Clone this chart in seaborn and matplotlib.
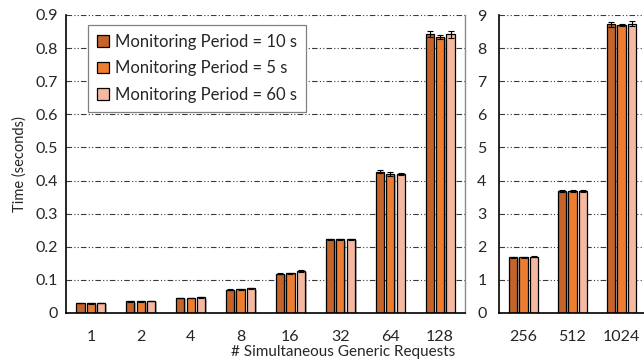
import matplotlib
matplotlib.use("Agg")
import matplotlib.pyplot as plt
import matplotlib.patheffects as pe
import seaborn as sns
import pandas as pd
import numpy as np

# ---- data ----
left_cats = ["1", "2", "4", "8", "16", "32", "64", "128"]
right_cats = ["256", "512", "1024"]
series = ["Monitoring Period = 10 s", "Monitoring Period = 5 s", "Monitoring Period = 60 s"]

left_p10 = [0.030, 0.035, 0.045, 0.070, 0.119, 0.222, 0.427, 0.843]
left_p5 = [0.029, 0.035, 0.045, 0.071, 0.120, 0.222, 0.420, 0.834]
left_p60 = [0.030, 0.036, 0.047, 0.074, 0.127, 0.223, 0.420, 0.842]
left_e10 = [0.001, 0.001, 0.001, 0.001, 0.002, 0.002, 0.005, 0.010]
left_e5 = [0.001, 0.001, 0.001, 0.001, 0.002, 0.002, 0.005, 0.007]
left_e60 = [0.001, 0.001, 0.001, 0.001, 0.002, 0.002, 0.002, 0.010]

right_p10 = [1.68, 3.68, 8.72]
right_p5 = [1.68, 3.68, 8.70]
right_p60 = [1.70, 3.68, 8.74]
right_e10 = [0.02, 0.02, 0.07]
right_e5 = [0.02, 0.02, 0.04]
right_e60 = [0.02, 0.03, 0.08]

colors = ["#C4632A", "#ED7D31", "#F5B9A2"]

sns.set_theme(style="white")
plt.rcParams["font.family"] = ["Lato", "DejaVu Sans"]

def make_df(cats, vals):
    rows = []
    for s, v in zip(series, vals):
        for c, y in zip(cats, v):
            rows.append({"cat": c, "series": s, "time": y})
    return pd.DataFrame(rows)

dfl = make_df(left_cats, [left_p10, left_p5, left_p60])
dfr = make_df(right_cats, [right_p10, right_p5, right_p60])

fig = plt.figure(figsize=(6.44, 3.61), dpi=100)
W, H = 644, 361
top, bot = 15, 313
ax1 = fig.add_axes([66 / W, 1 - bot / H, (465 - 66) / W, (bot - top) / H])
ax2 = fig.add_axes([499 / W, 1 - bot / H, (646 - 499) / W, (bot - top) / H])

shadow = [pe.SimplePatchShadow(offset=(1.2, -0.8), shadow_rgbFace="#808080", alpha=0.6), pe.Normal()]

for ax, df, cats, errs, ymax, ticks in [
    (ax1, dfl, left_cats, [left_e10, left_e5, left_e60], 0.9, np.arange(0, 0.91, 0.1)),
    (ax2, dfr, right_cats, [right_e10, right_e5, right_e60], 9, np.arange(0, 10, 1)),
]:
    sns.barplot(data=df, x="cat", y="time", hue="series", order=cats, hue_order=series,
                palette=colors, saturation=1, width=0.63, gap=0.22, errorbar=None,
                edgecolor="black", linewidth=0.9, ax=ax, legend=(ax is ax1))
    for cont, e in zip(ax.containers, errs):
        xs = [b.get_x() + b.get_width() / 2 for b in cont]
        ys = [b.get_height() for b in cont]
        for b in cont:
            b.set_path_effects(shadow)
        ax.errorbar(xs, ys, yerr=e, fmt="none", ecolor="black", elinewidth=0.8,
                    capsize=2.5, capthick=0.8, zorder=5)
    ax.set_ylim(0, ymax)
    ax.set_yticks(ticks)
    ax.set_xlim(-0.5, len(cats) - 0.5)
    ax.yaxis.grid(True, color="#3a3a3a", linewidth=0.8, dashes=(5, 2, 1, 2, 1, 2))
    ax.set_axisbelow(True)
    ax.set_xlabel("")
    ax.set_ylabel("")
    ax.tick_params(axis="x", length=0, labelsize=11.5, pad=12)
    ax.tick_params(axis="y", direction="in", length=3, width=0.8, labelsize=11.5, pad=6, color="black")
    for s in ["left", "bottom"]:
        ax.spines[s].set_color("black")
        ax.spines[s].set_linewidth(1.2)
    ax.spines["top"].set_visible(False)

ax1.set_yticklabels(["0"] + [f"{t:.1f}" for t in np.arange(0.1, 0.91, 0.1)])
ax1.spines["right"].set_color("#8a8a8a")
ax1.spines["right"].set_linewidth(1.0)
ax2.spines["right"].set_visible(False)
ax2.tick_params(axis="y", pad=9)

ax1.set_ylabel("Time (seconds)", fontsize=10.5, labelpad=6)

leg = ax1.legend(loc="upper left", bbox_to_anchor=(22 / 399, 1 - 10 / 298), fontsize=12,
                 frameon=True, fancybox=False, edgecolor="#808080", framealpha=1,
                 handlelength=0.7, handleheight=0.7, handletextpad=0.35,
                 labelspacing=0.62, borderpad=0.55, borderaxespad=0)
leg.get_frame().set_linewidth(0.9)
for h in leg.legend_handles:
    h.set_edgecolor("black")
    h.set_linewidth(0.9)

fig.text(343 / W, 1 - 352 / H, "# Simultaneous Generic Requests", ha="center", va="center", fontsize=11)

fig.savefig("out.png", dpi=100)
